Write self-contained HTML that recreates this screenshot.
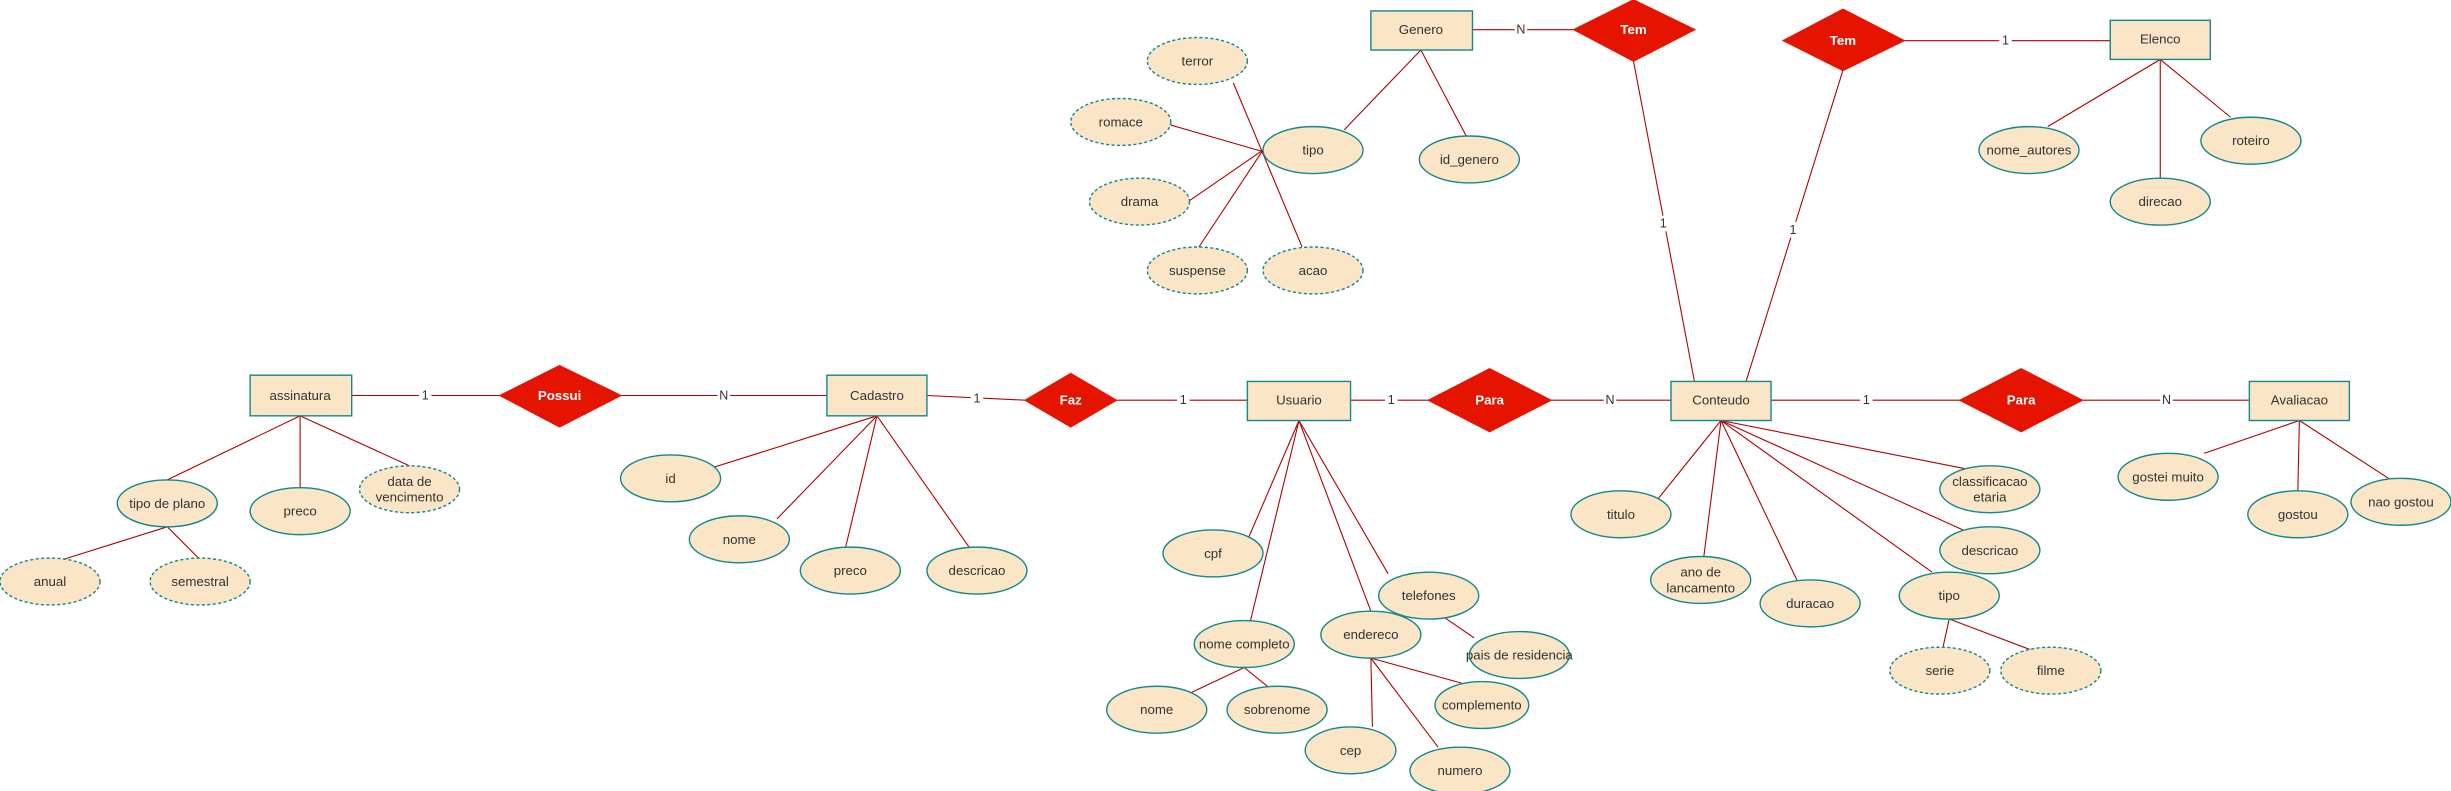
<!DOCTYPE html>
<html><head><meta charset="utf-8"><style>
html,body{margin:0;padding:0;background:#fff;}
svg{display:block;}
text{font-family:"Liberation Sans",sans-serif;font-size:8.5px;fill:#333;text-anchor:middle;dominant-baseline:central;}
.rl text{fill:#fff;font-weight:bold;}
.e{fill:#fae5c7;stroke:#12898a;stroke-width:0.9;}
.d{fill:#fae5c7;stroke:#12898a;stroke-width:0.9;stroke-dasharray:2 1.5;}
.r{fill:#e51400;stroke:#e51400;}
.ln line{stroke:#b20000;stroke-width:0.7;}
.lb{fill:#333;font-size:8px;}
.lbg{fill:#fff;}
</style></head><body>
<svg width="2451" height="791" viewBox="0 0 1568 506" preserveAspectRatio="none" xmlns="http://www.w3.org/2000/svg">
<g class="ln">
<line x1="225" y1="253" x2="320" y2="253"/><line x1="397" y1="253" x2="529" y2="253"/>
<line x1="593" y1="253" x2="656" y2="256"/><line x1="714" y1="256" x2="798" y2="256"/>
<line x1="864" y1="256" x2="914" y2="256"/><line x1="992" y1="256" x2="1069" y2="256"/>
<line x1="1133" y1="256" x2="1254" y2="256"/><line x1="1332" y1="256" x2="1439" y2="256"/>
<line x1="942" y1="19" x2="1007" y2="19"/><line x1="1218" y1="26" x2="1350" y2="26"/>
<line x1="1045" y1="39" x2="1084" y2="244"/><line x1="1179" y1="45" x2="1117" y2="244"/>
<line x1="192" y1="266" x2="107" y2="307"/><line x1="192" y1="266" x2="192" y2="312"/><line x1="192" y1="266" x2="262" y2="298"/>
<line x1="107" y1="337" x2="40" y2="358"/><line x1="107" y1="337" x2="128" y2="358"/>
<line x1="561" y1="266" x2="450" y2="301"/><line x1="561" y1="266" x2="497" y2="332"/><line x1="561" y1="266" x2="541" y2="350"/><line x1="561" y1="266" x2="620" y2="350"/>
<line x1="831" y1="269" x2="797" y2="348"/><line x1="831" y1="269" x2="800" y2="397"/><line x1="831" y1="269" x2="877" y2="391"/><line x1="831" y1="269" x2="888" y2="367"/>
<line x1="796" y1="427" x2="760" y2="444"/><line x1="796" y1="427" x2="812" y2="440"/>
<line x1="924" y1="395" x2="943" y2="408"/>
<line x1="877" y1="421" x2="878" y2="465"/><line x1="877" y1="421" x2="920" y2="478"/><line x1="877" y1="421" x2="935" y2="437"/>
<line x1="1101" y1="269" x2="1060" y2="320"/><line x1="1101" y1="269" x2="1090" y2="356"/><line x1="1101" y1="269" x2="1150" y2="372"/><line x1="1101" y1="269" x2="1236" y2="366"/><line x1="1101" y1="269" x2="1258" y2="340"/><line x1="1101" y1="269" x2="1258" y2="300"/>
<line x1="1247" y1="396" x2="1243" y2="414"/><line x1="1247" y1="396" x2="1300" y2="416"/>
<line x1="1471" y1="269" x2="1410" y2="290"/><line x1="1471" y1="269" x2="1470" y2="314"/><line x1="1471" y1="269" x2="1528" y2="306"/>
<line x1="909" y1="32" x2="860" y2="83"/><line x1="909" y1="32" x2="938" y2="87"/>
<line x1="789" y1="53" x2="833" y2="158"/><line x1="749" y1="80" x2="808" y2="97"/><line x1="760" y1="129" x2="808" y2="96"/><line x1="767" y1="158" x2="808" y2="96"/>
<line x1="1382" y1="38" x2="1310" y2="81"/><line x1="1382" y1="38" x2="1382" y2="114"/><line x1="1382" y1="38" x2="1427" y2="75"/>
</g>
<g>
<rect class="lbg" x="268" y="248" width="8" height="10"/><text class="lb" x="272" y="253">1</text>
<rect class="lbg" x="459" y="248" width="8" height="10"/><text class="lb" x="463" y="253">N</text>
<rect class="lbg" x="621" y="250" width="8" height="10"/><text class="lb" x="625" y="255">1</text>
<rect class="lbg" x="753" y="251" width="8" height="10"/><text class="lb" x="757" y="256">1</text>
<rect class="lbg" x="886" y="251" width="8" height="10"/><text class="lb" x="890" y="256">1</text>
<rect class="lbg" x="1026" y="251" width="8" height="10"/><text class="lb" x="1030" y="256">N</text>
<rect class="lbg" x="1190" y="251" width="8" height="10"/><text class="lb" x="1194" y="256">1</text>
<rect class="lbg" x="1382" y="251" width="8" height="10"/><text class="lb" x="1386" y="256">N</text>
<rect class="lbg" x="969" y="14" width="8" height="10"/><text class="lb" x="973" y="19">N</text>
<rect class="lbg" x="1279" y="21" width="8" height="10"/><text class="lb" x="1283" y="26">1</text>
<rect class="lbg" x="1060" y="138" width="8" height="10"/><text class="lb" x="1064" y="143">1</text>
<rect class="lbg" x="1143" y="142" width="8" height="10"/><text class="lb" x="1147" y="147">1</text>
</g>
<g>
<rect class="e" x="160" y="240" width="65" height="26"/><text x="192" y="253">assinatura</text>
<rect class="e" x="529" y="240" width="64" height="26"/><text x="561" y="253">Cadastro</text>
<rect class="e" x="798" y="244" width="66" height="25"/><text x="831" y="256">Usuario</text>
<rect class="e" x="1069" y="244" width="64" height="25"/><text x="1101" y="256">Conteudo</text>
<rect class="e" x="1439" y="244" width="64" height="25"/><text x="1471" y="256">Avaliacao</text>
<rect class="e" x="877" y="7" width="65" height="25"/><text x="909" y="19">Genero</text>
<rect class="e" x="1350" y="13" width="64" height="25"/><text x="1382" y="25">Elenco</text>
</g>
<g class="rl">
<polygon class="r" points="358,234 397,253 358,273 320,253"/><text x="358" y="253">Possui</text>
<polygon class="r" points="685,239 714,256 685,273 656,256"/><text x="685" y="256">Faz</text>
<polygon class="r" points="953,236 992,256 953,276 914,256"/><text x="953" y="256">Para</text>
<polygon class="r" points="1293,236 1332,256 1293,276 1254,256"/><text x="1293" y="256">Para</text>
<polygon class="r" points="1045,0 1084,19 1045,39 1007,19"/><text x="1045" y="19">Tem</text>
<polygon class="r" points="1179,6 1218,26 1179,45 1141,26"/><text x="1179" y="26">Tem</text>
</g>
<g>
<ellipse class="e" cx="107" cy="322" rx="32" ry="15"/><text x="107" y="322">tipo de plano</text>
<ellipse class="e" cx="192" cy="327" rx="32" ry="15"/><text x="192" y="327">preco</text>
<ellipse class="d" cx="262" cy="313" rx="32" ry="15"/><text x="262" y="308">data de</text><text x="262" y="318">vencimento</text>
<ellipse class="d" cx="32" cy="372" rx="32" ry="15"/><text x="32" y="372">anual</text>
<ellipse class="d" cx="128" cy="372" rx="32" ry="15"/><text x="128" y="372">semestral</text>
<ellipse class="e" cx="429" cy="306" rx="32" ry="15"/><text x="429" y="306">id</text>
<ellipse class="e" cx="473" cy="345" rx="32" ry="15"/><text x="473" y="345">nome</text>
<ellipse class="e" cx="544" cy="365" rx="32" ry="15"/><text x="544" y="365">preco</text>
<ellipse class="e" cx="625" cy="365" rx="32" ry="15"/><text x="625" y="365">descricao</text>
<ellipse class="e" cx="776" cy="354" rx="32" ry="15"/><text x="776" y="354">cpf</text>
<ellipse class="e" cx="796" cy="412" rx="32" ry="15"/><text x="796" y="412">nome completo</text>
<ellipse class="e" cx="877" cy="406" rx="32" ry="15"/><text x="877" y="406">endereco</text>
<ellipse class="e" cx="914" cy="381" rx="32" ry="15"/><text x="914" y="381">telefones</text>
<ellipse class="e" cx="972" cy="419" rx="32" ry="15"/><text x="972" y="419">pais de residencia</text>
<ellipse class="e" cx="740" cy="454" rx="32" ry="15"/><text x="740" y="454">nome</text>
<ellipse class="e" cx="817" cy="454" rx="32" ry="15"/><text x="817" y="454">sobrenome</text>
<ellipse class="e" cx="948" cy="451" rx="30" ry="15"/><text x="948" y="451">complemento</text>
<ellipse class="e" cx="864" cy="480" rx="29" ry="15"/><text x="864" y="480">cep</text>
<ellipse class="e" cx="934" cy="493" rx="32" ry="15"/><text x="934" y="493">numero</text>
<ellipse class="e" cx="1037" cy="329" rx="32" ry="15"/><text x="1037" y="329">titulo</text>
<ellipse class="e" cx="1088" cy="371" rx="32" ry="15"/><text x="1088" y="366">ano de</text><text x="1088" y="376">lancamento</text>
<ellipse class="e" cx="1158" cy="386" rx="32" ry="15"/><text x="1158" y="386">duracao</text>
<ellipse class="e" cx="1273" cy="313" rx="32" ry="15"/><text x="1273" y="308">classificacao</text><text x="1273" y="318">etaria</text>
<ellipse class="e" cx="1273" cy="352" rx="32" ry="15"/><text x="1273" y="352">descricao</text>
<ellipse class="e" cx="1247" cy="381" rx="32" ry="15"/><text x="1247" y="381">tipo</text>
<ellipse class="d" cx="1241" cy="429" rx="32" ry="15"/><text x="1241" y="429">serie</text>
<ellipse class="d" cx="1312" cy="429" rx="32" ry="15"/><text x="1312" y="429">filme</text>
<ellipse class="e" cx="1387" cy="305" rx="32" ry="15"/><text x="1387" y="305">gostei muito</text>
<ellipse class="e" cx="1470" cy="329" rx="32" ry="15"/><text x="1470" y="329">gostou</text>
<ellipse class="e" cx="1536" cy="321" rx="32" ry="15"/><text x="1536" y="321">nao gostou</text>
<ellipse class="e" cx="840" cy="96" rx="32" ry="15"/><text x="840" y="96">tipo</text>
<ellipse class="e" cx="940" cy="102" rx="32" ry="15"/><text x="940" y="102">id_genero</text>
<ellipse class="d" cx="766" cy="39" rx="32" ry="15"/><text x="766" y="39">terror</text>
<ellipse class="d" cx="717" cy="78" rx="32" ry="15"/><text x="717" y="78">romace</text>
<ellipse class="d" cx="729" cy="129" rx="32" ry="15"/><text x="729" y="129">drama</text>
<ellipse class="d" cx="766" cy="173" rx="32" ry="15"/><text x="766" y="173">suspense</text>
<ellipse class="d" cx="840" cy="173" rx="32" ry="15"/><text x="840" y="173">acao</text>
<ellipse class="e" cx="1298" cy="96" rx="32" ry="15"/><text x="1298" y="96">nome_autores</text>
<ellipse class="e" cx="1440" cy="90" rx="32" ry="15"/><text x="1440" y="90">roteiro</text>
<ellipse class="e" cx="1382" cy="129" rx="32" ry="15"/><text x="1382" y="129">direcao</text>
</g>
</svg>
</body></html>
